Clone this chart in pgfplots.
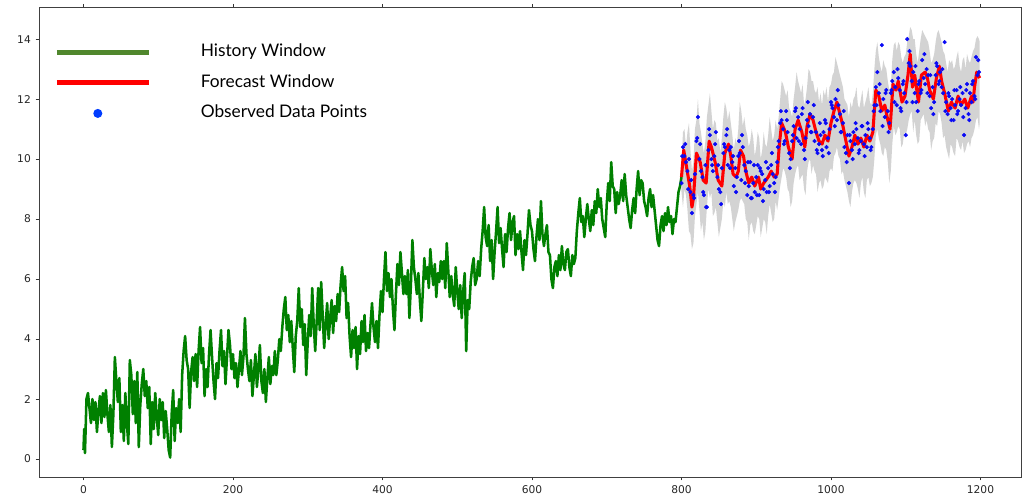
\documentclass[border=0pt]{standalone}
\usepackage{pgfplots}
\usepackage{pgfplotstable}
\pgfplotsset{compat=1.18}
\usepgfplotslibrary{fillbetween}
\usepackage{fontspec}
\setmainfont{DejaVu Sans}
\newfontfamily\latofont{Lato}
\definecolor{histgreen}{RGB}{0,128,0}
\definecolor{leggreen}{RGB}{80,135,45}
\definecolor{fcred}{RGB}{255,0,0}
\definecolor{obsblue}{RGB}{10,10,245}
\definecolor{legblue}{RGB}{0,60,255}
\definecolor{bandgray}{RGB}{211,211,211}
\pgfplotstableread{
x y
0 0.3
1 1.0
2 0.2
4 2.0
6 2.2
8 1.7
10 1.2
12 2.0
14 1.3
16 1.9
18 0.9
20 1.6
22 2.1
24 1.2
26 2.2
28 1.4
30 2.3
32 1.5
34 0.9
36 1.8
38 0.4
40 1.5
42 3.4
44 2.6
46 1.9
48 2.7
50 0.9
52 1.8
54 0.6
56 2.2
58 1.2
60 0.5
62 3.3
64 2.8
66 1.5
68 2.6
70 1.2
72 2.9
74 0.4
76 1.8
78 2.5
80 3.0
82 2.1
84 2.6
86 1.7
88 2.4
90 0.5
92 1.9
94 1.0
96 2.2
98 1.4
100 0.8
102 2.0
104 1.3
106 1.9
108 0.7
110 1.6
112 1.0
114 0.3
116 0.05
118 1.5
120 2.3
122 0.6
124 1.7
126 1.2
128 2.0
130 0.9
132 2.8
134 3.6
136 4.1
138 3.3
140 3.0
142 1.7
144 2.9
146 3.4
148 2.6
150 3.5
152 2.4
154 3.6
156 4.4
158 3.2
160 3.7
162 2.1
164 3.0
166 2.4
168 3.5
170 4.3
172 3.4
174 2.6
176 2.0
178 3.2
180 2.7
182 3.6
184 4.3
186 3.1
188 3.6
190 2.5
192 3.4
194 4.3
196 3.8
198 3.0
200 3.5
202 2.7
204 3.2
206 2.4
208 3.0
210 3.6
212 2.8
214 3.4
216 4.7
218 3.5
220 3.0
222 2.6
224 3.3
226 2.1
228 2.8
230 3.5
232 2.4
234 3.0
236 3.8
238 2.6
240 2.2
242 3.0
244 1.9
246 2.7
248 3.4
250 2.5
252 3.1
254 2.8
256 3.6
258 2.8
260 3.3
262 4.0
264 3.6
266 4.4
268 5.0
270 5.4
272 4.3
274 4.8
276 3.9
278 4.6
280 3.7
282 2.9
284 4.1
286 4.6
288 5.7
290 4.4
292 5.0
294 3.8
296 4.5
298 2.8
300 3.9
302 4.8
304 4.1
306 5.7
308 4.5
310 3.6
312 4.6
314 5.7
316 4.3
318 5.9
320 4.8
322 3.7
324 4.5
326 5.2
328 4.0
330 4.7
332 5.3
334 4.2
336 5.1
338 4.6
340 5.5
342 4.9
344 5.8
346 6.4
348 5.6
350 6.1
352 4.7
354 5.2
356 4.1
358 3.4
360 4.3
362 3.7
364 4.4
366 3.0
368 4.1
370 3.5
372 4.6
374 3.9
376 4.8
378 3.6
380 4.2
382 3.7
384 4.5
386 5.2
388 4.4
390 3.9
392 4.6
394 3.7
396 4.8
398 5.6
400 4.9
402 6.0
404 6.9
406 5.6
408 6.2
410 5.4
412 6.0
414 5.0
416 4.3
418 5.5
420 6.5
422 5.8
424 6.9
426 6.2
428 5.5
430 6.1
432 5.5
434 6.3
436 4.7
438 5.8
440 7.3
442 6.4
444 6.0
446 5.5
448 6.2
450 5.3
452 4.6
454 5.6
456 6.7
458 6.0
460 6.4
462 5.7
464 7.0
466 6.3
468 5.8
470 6.5
472 5.4
474 6.2
476 5.9
478 6.6
480 6.0
482 6.6
484 5.7
486 7.2
488 6.3
490 5.4
492 6.1
494 5.5
496 5.1
498 6.4
500 5.6
502 5.0
504 5.8
506 4.7
508 5.6
510 6.2
512 3.6
514 5.3
516 5.0
518 5.9
520 6.4
522 6.7
524 5.8
526 6.0
528 6.6
530 6.1
532 7.0
534 7.6
536 8.4
538 7.4
540 7.1
542 7.8
544 6.6
546 7.3
548 6.0
550 6.9
552 7.6
554 8.4
556 7.2
558 7.7
560 7.0
562 6.4
564 7.5
566 6.9
568 7.7
570 8.2
572 7.3
574 7.9
576 8.1
578 6.8
580 7.5
582 7.0
584 7.6
586 6.9
588 6.3
590 7.3
592 6.8
594 7.5
596 8.3
598 7.8
600 7.6
602 7.0
604 6.6
606 7.4
608 8.0
610 7.3
612 8.6
614 7.5
616 7.1
618 7.5
620 7.8
622 6.9
624 6.8
626 6.0
628 5.7
630 6.4
632 6.6
634 6.1
636 6.8
638 6.3
640 7.1
642 6.5
644 6.3
646 6.9
648 7.0
650 6.4
652 6.1
654 6.8
656 6.5
658 6.7
660 7.6
662 8.2
664 8.7
666 7.9
668 8.1
670 7.4
672 8.0
674 8.5
676 8.0
678 7.6
680 8.3
682 7.8
684 8.6
686 8.2
688 9.0
690 8.4
692 8.7
694 8.0
696 7.7
698 7.4
700 8.5
702 9.2
704 8.6
706 9.9
708 9.1
710 9.0
712 8.2
714 8.9
716 8.5
718 8.8
720 9.3
722 8.6
724 9.5
726 8.8
728 8.4
730 8.0
732 7.7
734 8.3
736 8.7
738 8.2
740 9.0
742 9.6
744 8.8
746 9.3
748 9.2
750 8.6
752 8.4
754 8.1
756 8.7
758 9.0
760 8.4
762 8.8
764 8.3
766 7.8
768 7.3
770 7.1
772 7.8
774 8.1
776 7.6
778 8.2
780 7.8
782 8.4
784 7.9
786 8.1
788 7.5
790 8.0
792 7.9
794 8.4
796 8.9
798 9.1
800 9.4
}\history
\pgfplotstableread{
x y
800 9.4
803 10.3
807 9.7
811 9.1
814 8.4
816 8.7
820 10.2
825 9.9
829 9.3
833 9.2
837 10.6
840 10.4
845 9.9
849 9.3
854 9.1
858 10.2
863 10.5
866 10.1
869 9.5
873 9.4
876 9.6
879 10.3
883 10.1
886 9.6
890 9.2
894 9.4
898 9.1
903 9.4
906 9.0
910 9.2
916 9.4
920 9.6
924 9.4
928 9.5
931 10.5
934 11.2
939 10.9
943 10.4
948 10.0
952 11.0
956 11.3
961 10.9
965 10.4
968 11.1
972 11.5
976 11.3
980 10.9
984 10.6
988 10.5
992 10.8
996 10.6
1000 11.2
1004 11.6
1008 11.9
1012 11.5
1016 11.1
1020 10.6
1024 10.1
1028 10.4
1032 10.8
1036 10.5
1040 10.7
1044 10.4
1048 10.8
1052 10.6
1056 10.9
1060 12.3
1064 12.1
1068 11.6
1072 11.8
1076 11.3
1079 11.0
1083 12.5
1087 12.3
1090 12.6
1095 11.9
1099 12.1
1103 12.8
1106 13.5
1109 12.4
1112 12.8
1117 11.9
1121 12.8
1126 12.9
1129 12.7
1132 12.3
1137 12.0
1141 12.7
1145 13.1
1148 12.6
1152 12.2
1157 11.6
1161 11.9
1166 11.7
1170 12.1
1174 11.8
1179 12.0
1183 11.7
1188 12.1
1190 11.9
1192 12.4
1195 12.9
1199 12.7
}\forecast
\pgfplotstableread{
x up lo
800 9.8 8.9
802 10.9 8.4
804 11.0 9.0
806 10.4 8.8
808 10.9 8.3
810 11.2 7.6
812 10.3 7.5
814 9.6 7.0
816 9.9 7.2
818 11.0 8.1
820 11.3 8.5
822 12.0 8.9
824 11.2 8.3
826 10.9 7.6
828 10.5 7.9
830 10.2 7.3
832 10.6 7.6
834 11.4 8.4
836 11.8 9.0
838 12.2 8.7
840 11.6 8.9
842 11.0 8.1
844 11.3 8.2
846 11.2 8.4
848 10.6 7.9
850 10.7 7.4
852 10.2 7.7
854 10.7 8.0
856 11.4 8.6
858 11.9 8.4
860 11.7 8.9
862 11.3 8.5
864 11.6 8.6
866 11.2 8.4
868 10.8 8.0
870 10.3 7.6
872 10.7 7.9
874 10.5 8.1
876 11.0 8.3
878 11.9 8.6
880 11.6 8.7
882 11.1 8.6
884 11.4 8.5
886 11.0 8.0
888 10.8 7.9
890 10.4 7.3
892 10.6 7.8
894 11.0 7.9
896 10.7 7.6
898 10.1 7.5
900 10.4 7.8
902 10.9 8.1
904 10.7 8.0
906 10.0 7.4
908 10.3 7.7
910 10.9 8.0
912 10.5 7.9
914 10.4 7.5
916 10.8 8.1
918 11.4 8.5
920 11.0 8.2
922 10.6 7.9
924 10.8 8.0
926 11.3 8.6
928 11.0 8.3
930 11.4 8.7
932 12.0 9.1
934 12.6 9.4
936 12.5 9.7
938 12.3 9.6
940 12.1 9.4
942 12.3 9.0
944 11.7 8.9
946 11.6 8.4
948 11.4 8.6
950 12.0 9.2
952 12.4 9.5
954 12.9 9.7
956 12.6 9.8
958 12.4 9.3
960 12.2 9.4
962 12.5 9.5
964 11.8 9.0
966 12.0 8.8
968 12.4 9.6
970 13.0 9.9
972 12.9 10.0
974 12.6 9.5
976 12.6 9.8
978 12.3 9.6
980 12.2 9.5
982 12.4 8.9
984 11.9 9.2
986 12.2 9.3
988 11.8 9.0
990 12.3 9.1
992 12.1 9.4
994 12.4 9.3
996 11.9 9.2
998 12.4 9.6
1000 12.5 9.7
1002 12.8 9.6
1004 12.9 10.1
1006 13.4 10.2
1008 13.2 10.4
1010 13.0 10.1
1012 12.8 10.0
1014 12.6 9.5
1016 12.4 9.6
1018 12.0 9.3
1020 11.9 9.1
1022 11.8 8.9
1024 11.4 8.6
1026 11.9 8.4
1028 11.7 8.9
1030 12.0 9.2
1032 12.1 9.3
1034 12.4 9.2
1036 11.8 9.0
1038 11.7 8.7
1040 12.0 9.2
1042 12.3 9.4
1044 11.7 8.9
1046 11.9 8.7
1048 12.1 9.3
1050 12.4 9.4
1052 11.9 9.1
1054 11.8 9.2
1056 12.2 9.4
1058 13.0 10.0
1060 13.6 10.8
1062 13.9 11.0
1064 13.4 10.7
1066 13.1 10.5
1068 12.9 10.2
1070 13.3 10.1
1072 13.1 10.4
1074 13.0 10.3
1076 12.6 9.9
1078 12.3 9.2
1080 12.4 9.6
1082 13.3 10.5
1084 13.8 11.1
1086 13.9 10.8
1088 13.6 10.9
1090 13.9 11.1
1092 13.8 11.0
1094 13.4 10.4
1096 13.2 10.5
1098 13.4 10.9
1100 13.5 10.8
1102 13.9 11.0
1104 14.1 11.3
1106 14.4 11.5
1108 14.3 11.6
1110 14.0 10.9
1112 14.0 11.3
1114 13.5 10.8
1116 13.2 10.5
1118 13.6 10.6
1120 14.0 11.3
1122 14.3 11.4
1124 14.2 11.5
1126 14.1 11.1
1128 14.0 11.3
1130 13.9 11.0
1132 13.6 10.9
1134 13.2 10.3
1136 13.3 10.6
1138 13.5 10.7
1140 13.9 11.2
1142 14.2 11.1
1144 14.3 11.6
1146 14.1 11.5
1148 13.9 11.2
1150 13.6 10.7
1152 13.5 10.8
1154 13.2 10.4
1156 12.9 10.2
1158 13.3 10.0
1160 13.2 10.5
1162 13.3 10.4
1164 13.0 10.2
1166 13.1 10.1
1168 13.4 10.7
1170 13.6 10.6
1172 13.1 10.4
1174 12.9 10.3
1176 13.3 10.6
1178 13.4 10.2
1180 13.0 10.3
1182 13.5 10.5
1184 13.3 10.6
1186 13.2 10.4
1188 13.4 10.7
1190 13.6 10.8
1192 13.7 11.0
1194 14.0 11.3
1196 14.1 11.4
1198 14.0 11.0
1199 13.9 11.2
}\band
\pgfplotstableread{
x y
800 9.2
801 10.1
802 10.4
804 10.1
805 10.5
806 9.9
808 9.6
809 9.0
810 10.0
812 8.9
813 9.3
814 8.2
816 8.8
817 8.7
818 9.5
820 10.6
821 10.7
822 11.4
824 10.0
825 10.5
826 9.6
828 9.4
829 8.9
830 8.8
832 9.8
833 8.4
834 8.4
836 10.3
837 11.0
838 10.8
840 10.0
841 9.8
842 9.6
844 10.1
845 10.5
846 10.9
848 9.4
849 9.8
850 9.0
852 8.9
853 8.5
854 9.7
856 10.2
857 10.5
858 10.4
860 10.8
861 11.0
862 9.8
864 10.3
865 9.7
866 10.4
868 9.9
869 10.1
870 9.1
872 9.7
873 8.9
874 9.4
876 10.1
877 10.6
878 10.2
880 9.3
881 10.8
882 10.4
884 9.8
885 9.2
886 9.6
888 8.8
889 9.9
890 9.1
892 9.9
893 8.7
894 8.7
896 9.2
897 9.8
898 8.9
900 9.4
901 8.8
902 9.8
904 8.8
905 9.7
906 9.6
908 9.5
909 8.6
910 9.0
912 9.3
913 9.9
914 8.9
916 9.7
917 8.9
918 9.1
920 9.8
921 10.2
922 9.5
924 9.2
925 8.9
926 9.4
928 9.9
929 10.4
930 10.6
932 11.2
933 11.6
934 11.3
936 11.0
937 10.5
938 10.6
940 11.6
941 11.3
942 10.9
944 10.2
945 9.7
946 10.0
948 10.6
949 10.8
950 11.1
952 11.6
953 11.7
954 10.7
956 11.4
957 10.6
958 11.0
960 10.5
961 11.5
962 11.7
964 10.3
965 10.0
966 10.7
968 11.3
969 11.9
970 11.1
972 11.5
973 10.9
974 10.9
976 11.4
977 11.8
978 10.6
980 10.9
981 10.3
982 10.2
984 10.5
985 11.2
986 10.8
988 10.3
989 10.1
990 10.9
992 11.3
993 11.2
994 10.4
996 10.7
997 10.2
998 11.0
1000 11.9
1001 11.8
1002 11.7
1004 11.4
1005 11.1
1006 12.0
1008 11.3
1009 12.3
1010 11.8
1012 11.5
1013 10.9
1014 10.9
1016 11.2
1017 11.6
1018 10.4
1020 10.2
1021 9.9
1022 10.8
1024 9.2
1025 10.8
1026 10.6
1028 10.3
1029 10.0
1030 10.9
1032 10.5
1033 11.2
1034 11.0
1036 10.7
1037 10.2
1038 10.3
1040 10.6
1041 11.1
1042 11.1
1044 10.5
1045 10.1
1046 10.8
1048 10.4
1049 11.2
1050 11.0
1052 10.7
1053 10.3
1054 10.4
1056 11.0
1057 11.6
1058 11.8
1060 12.4
1061 11.8
1062 12.9
1064 12.2
1065 12.5
1066 11.6
1068 13.8
1069 11.1
1070 12.0
1072 11.4
1073 12.2
1074 12.3
1076 11.6
1077 10.9
1078 11.2
1080 12.2
1081 12.3
1082 12.6
1084 12.9
1085 11.9
1086 12.4
1088 11.8
1089 13.0
1090 12.7
1092 12.3
1093 11.7
1094 11.6
1096 12.5
1097 12.6
1098 12.2
1100 10.8
1101 11.9
1102 14.0
1104 13.2
1105 13.6
1106 13.1
1108 12.6
1109 11.9
1110 12.9
1112 12.2
1113 13.1
1114 11.9
1116 11.6
1117 12.5
1118 12.6
1120 12.2
1121 12.3
1122 13.3
1124 12.7
1125 13.5
1126 12.5
1128 13.0
1129 12.2
1130 12.8
1132 12.1
1133 12.8
1134 11.7
1136 12.4
1137 11.5
1138 11.9
1140 12.8
1141 13.2
1142 13.1
1144 12.5
1145 12.6
1146 12.9
1148 12.4
1149 13.0
1150 12.2
1152 13.9
1153 11.6
1154 11.9
1156 11.5
1157 12.2
1158 12.1
1160 11.7
1161 11.3
1162 12.0
1164 11.3
1165 12.3
1166 11.8
1168 12.3
1169 11.5
1170 11.6
1172 12.0
1173 12.4
1174 11.8
1176 12.2
1177 11.4
1178 10.8
1180 11.7
1181 12.3
1182 12.5
1184 11.5
1185 11.3
1186 12.2
1188 11.9
1189 12.5
1190 12.6
1192 12.1
1193 12.0
1194 13.4
1196 12.8
1197 13.3
1198 12.9
}\obs
\begin{document}
\begin{tikzpicture}
\begin{axis}[
  name=ax,
  scale only axis,
  width=737pt, height=352.3pt,
  xmin=-59.5, xmax=1255, ymin=-0.6, ymax=15.06,
  xtick={0,200,...,1200}, ytick={0,2,...,14},
  tick align=outside, major tick length=2.6pt,
  tick style={black!80, line width=0.6pt},
  axis line style={black!75, line width=0.6pt},
  ticklabel style={font=\fontsize{8pt}{9.6pt}\selectfont, text=black!85},
  /pgf/number format/assume math mode=true,
  scaled ticks=false,
  xticklabel style={/pgf/number format/1000 sep={}},
  legend cell align=left,
  legend style={draw=none, fill=none, at={(0.0153,0.923)}, anchor=north west,
    inner sep=0pt, row sep=10.5pt, column sep=0pt,
    nodes={inner sep=0pt, text height=9.5pt, text depth=3pt},
    font=\latofont\fontsize{13pt}{15pt}\selectfont},
]
\addlegendimage{legend image code/.code={\draw[line width=3.75pt, color=leggreen] (0pt,0pt) -- (69pt,0pt); \path[draw=none, fill=none] (0pt,-5pt) rectangle (108pt,5pt);}}
\addlegendentry{History Window}
\addlegendimage{legend image code/.code={\draw[line width=3.75pt, color=fcred] (0pt,0pt) -- (69pt,0pt); \path[draw=none, fill=none] (0pt,-5pt) rectangle (108pt,5pt);}}
\addlegendentry{Forecast Window}
\addlegendimage{legend image code/.code={\fill[color=legblue, draw=none] (30.75pt,0pt) circle (3.4pt); \path[draw=none, fill=none] (0pt,-5pt) rectangle (108pt,5pt);}}
\addlegendentry{Observed Data Points}
\addplot[name path=up, draw=none, forget plot] table[x=x, y=up] {\band};
\addplot[name path=lo, draw=none, forget plot] table[x=x, y=lo] {\band};
\addplot[bandgray, forget plot] fill between[of=up and lo];
\addplot[histgreen, line width=1.9pt, line join=round, forget plot] table {\history};
\addplot[fcred, line width=2.3pt, line join=round, forget plot] table {\forecast};
\addplot[only marks, mark=*, mark size=1.35pt, color=obsblue, forget plot] table {\obs};
\end{axis}
\pgfresetboundingbox
\path[use as bounding box] ([shift={(-29.25pt,-13.5pt)}]ax.south west) rectangle ([shift={(0.3pt,5.5pt)}]ax.north east);
\end{tikzpicture}
\end{document}
